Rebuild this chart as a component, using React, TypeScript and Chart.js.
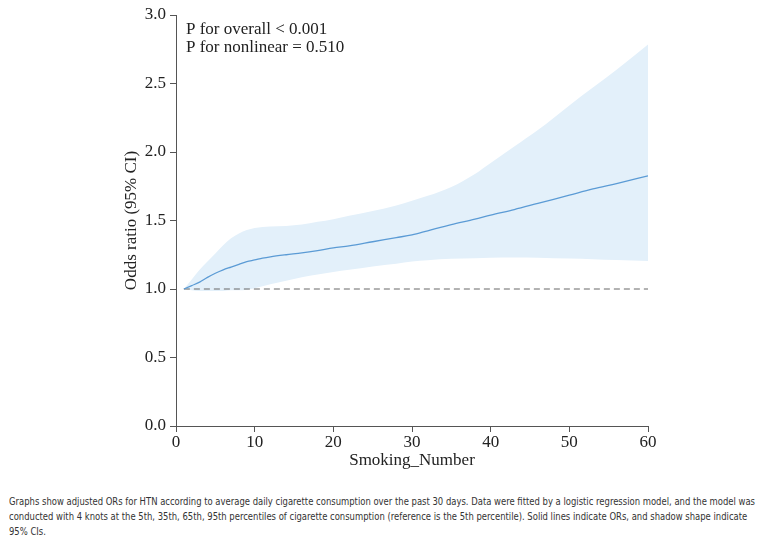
import React, { useEffect, useRef } from "react";
import { Chart, registerables } from "chart.js";

Chart.register(...registerables);

const smokingNumber = [1, 2, 3, 4, 5, 6, 7, 8, 9, 10, 11, 12, 14, 16, 18, 20, 22, 25, 28, 30, 32, 35, 38, 40, 43, 46, 50, 53, 56, 60];
const oddsRatio = [1.0, 1.025, 1.05, 1.085, 1.115, 1.14, 1.16, 1.18, 1.2, 1.212, 1.225, 1.235, 1.25, 1.263, 1.28, 1.3, 1.315, 1.345, 1.375, 1.395, 1.425, 1.47, 1.51, 1.54, 1.58, 1.625, 1.685, 1.73, 1.77, 1.826];
const upperCI = [1.0, 1.07, 1.14, 1.2, 1.26, 1.32, 1.37, 1.405, 1.43, 1.445, 1.452, 1.457, 1.46, 1.47, 1.49, 1.51, 1.535, 1.57, 1.61, 1.645, 1.68, 1.745, 1.84, 1.92, 2.04, 2.16, 2.34, 2.47, 2.6, 2.785];
const lowerCI = [1.0, 0.99, 0.985, 0.985, 0.985, 0.985, 0.99, 0.99, 0.995, 1.005, 1.02, 1.035, 1.06, 1.085, 1.105, 1.125, 1.14, 1.165, 1.185, 1.2, 1.21, 1.22, 1.225, 1.228, 1.23, 1.228, 1.222, 1.218, 1.212, 1.205];
const refX = [1, 60];
const refY = [1, 1];
const yTicks = [0, 0.5, 1, 1.5, 2, 2.5, 3];
const xTicks = [0, 10, 20, 30, 40, 50, 60];
const annotationLines = ["P for overall < 0.001", "P for nonlinear = 0.510"];
const xTitle = "Smoking_Number";
const yTitle = "Odds ratio (95% CI)";
const captionLines = [
  "Graphs show adjusted ORs for HTN according to average daily cigarette consumption over the past 30 days. Data were fitted by a logistic regression model, and the model was",
  "conducted with 4 knots at the 5th, 35th, 65th, 95th percentiles of cigarette consumption (reference is the 5th percentile). Solid lines indicate ORs, and shadow shape indicate",
  "95% CIs.",
];

const SERIF = "'Liberation Serif', 'Times New Roman', serif";

const toPts = (xs: number[], ys: number[]) => xs.map((x, i) => ({ x, y: ys[i] }));

export default function App() {
  const ref = useRef<HTMLCanvasElement | null>(null);
  const capRef = useRef<HTMLDivElement | null>(null);
  const firstLineRef = useRef<HTMLSpanElement | null>(null);

  useEffect(() => {
    if (capRef.current && firstLineRef.current) {
      const w = firstLineRef.current.getBoundingClientRect().width;
      const target = 746;
      if (w > 0) capRef.current.style.transform = `scaleX(${target / w})`;
    }
  }, []);

  useEffect(() => {
    if (!ref.current) return;
    const textPlugin = {
      id: "texts",
      afterDraw(chart: any) {
        const ctx = chart.ctx;
        const area = chart.chartArea;
        ctx.save();
        ctx.fillStyle = "#222";
        ctx.font = `17px ${SERIF}`;
        ctx.textAlign = "left";
        ctx.textBaseline = "alphabetic";
        annotationLines.forEach((t, i) => ctx.fillText(t, area.left + 10, 34 + i * 18));
        ctx.textAlign = "center";
        ctx.textBaseline = "middle";
        ctx.fillText(xTitle, (area.left + area.right) / 2, 461);
        ctx.translate(132, (area.top + area.bottom) / 2);
        ctx.rotate(-Math.PI / 2);
        ctx.fillText(yTitle, 0, 0);
        ctx.restore();
      },
    };

    const chart = new Chart(ref.current, {
      type: "line",
      data: {
        datasets: [
          {
            label: "upper",
            data: toPts(smokingNumber, upperCI),
            borderWidth: 0,
            pointRadius: 0,
            fill: "+1",
            backgroundColor: "#e3f0fa",
            cubicInterpolationMode: "monotone",
            order: 10,
          },
          {
            label: "lower",
            data: toPts(smokingNumber, lowerCI),
            borderWidth: 0,
            pointRadius: 0,
            fill: false,
            backgroundColor: "#e3f0fa",
            cubicInterpolationMode: "monotone",
            order: 9,
          },
          {
            label: "ref",
            data: toPts(refX, refY),
            borderColor: "#666",
            borderWidth: 1,
            borderDash: [6, 4],
            pointRadius: 0,
            fill: false,
            order: 2,
          },
          {
            label: "OR",
            data: toPts(smokingNumber, oddsRatio),
            borderColor: "#5b9bd5",
            borderWidth: 1.3,
            pointRadius: 0,
            fill: false,
            cubicInterpolationMode: "monotone",
            order: 1,
          },
        ],
      },
      options: {
        animation: false,
        responsive: false,
        layout: { padding: { top: 15, left: 0, right: 119, bottom: 0 } },
        plugins: { legend: { display: false }, tooltip: { enabled: false } },
        scales: {
          x: {
            type: "linear",
            min: 0,
            max: 60,
            afterFit: (s: any) => {
              s.height = 52;
            },
            afterBuildTicks: (s: any) => {
              s.ticks = xTicks.map((v) => ({ value: v }));
            },
            grid: { drawOnChartArea: false, tickLength: 6, color: "#555", tickColor: "#555" },
            border: { color: "#555", width: 1 },
            ticks: { color: "#222", font: { family: SERIF, size: 17 }, padding: 0 },
          },
          y: {
            type: "linear",
            min: 0,
            max: 3,
            afterFit: (s: any) => {
              s.width = 176;
            },
            afterBuildTicks: (s: any) => {
              s.ticks = yTicks.map((v) => ({ value: v }));
            },
            grid: { drawOnChartArea: false, tickLength: 6, color: "#555", tickColor: "#555" },
            border: { color: "#555", width: 1 },
            ticks: {
              color: "#222",
              font: { family: SERIF, size: 17 },
              padding: 4,
              callback: (v: any) => Number(v).toFixed(1),
            },
          },
        },
      },
      plugins: [textPlugin],
    } as any);
    return () => chart.destroy();
  }, []);

  return (
    <div style={{ margin: "-8px 0 0 -8px", width: 767 }}>
      <canvas ref={ref} width={767} height={478} style={{ display: "block" }} />
      <div style={{ marginTop: 16, paddingLeft: 9, overflow: "visible" }}>
        <div
          ref={capRef}
          style={{
            fontFamily: "'DejaVu Sans', sans-serif",
            fontSize: 11,
            lineHeight: "15px",
            color: "#333",
            whiteSpace: "nowrap",
            transformOrigin: "0 0",
            width: "max-content",
          }}
        >
          {captionLines.map((l, i) => (
            <div key={i}>
              {i === 0 ? <span ref={firstLineRef}>{l}</span> : l}
            </div>
          ))}
        </div>
      </div>
    </div>
  );
}
